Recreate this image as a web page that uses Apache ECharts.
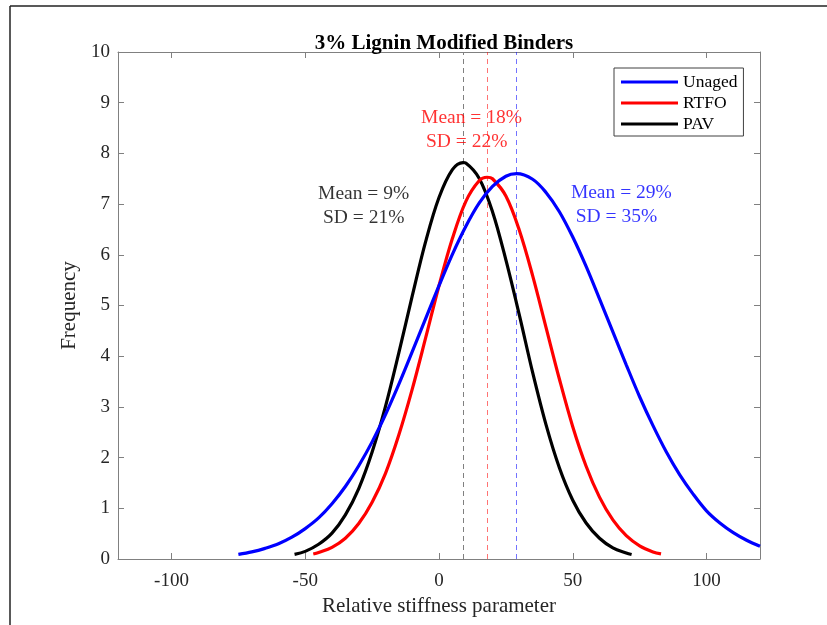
<!DOCTYPE html>
<html>
<head>
<meta charset="utf-8">
<script src="https://cdn.jsdelivr.net/npm/echarts@6/dist/echarts.min.js"></script>
<style>html,body{margin:0;padding:0;background:#fff;}#chart{width:827px;height:625px;}</style>
</head>
<body>
<div id="chart"></div>
<script>
// ---- data ----
const seriesNames = ['Unaged', 'RTFO', 'PAV'];
const unagedX = [-75,-70,-65,-60,-55,-50,-45,-40,-35,-30,-25,-20,-15,-10,-5,0,5,10,15,20,25,29,35,40,45,50,55,60,65,70,75,80,85,90,95,100,105,110,115,120];
const unagedY = [0.09,0.14,0.21,0.30,0.43,0.60,0.81,1.09,1.43,1.84,2.31,2.85,3.45,4.09,4.74,5.39,6.01,6.56,7.02,7.35,7.55,7.60,7.49,7.23,6.85,6.35,5.77,5.13,4.48,3.83,3.20,2.63,2.11,1.66,1.28,0.95,0.71,0.52,0.37,0.25];
const rtfoX = [-47,-45,-40,-35,-30,-25,-20,-15,-10,-5,0,5,10,15,18,20,25,30,35,40,45,50,55,60,65,70,75,80,83];
const rtfoY = [0.10,0.13,0.23,0.41,0.70,1.12,1.69,2.45,3.35,4.36,5.39,6.32,7.05,7.46,7.53,7.50,7.16,6.49,5.59,4.57,3.55,2.61,1.83,1.22,0.77,0.46,0.26,0.14,0.10];
const pavX = [-54,-50,-45,-40,-35,-30,-25,-20,-15,-10,-5,0,5,9,10,15,20,25,30,35,40,45,50,55,60,65,70,72];
const pavY = [0.09,0.15,0.29,0.51,0.87,1.39,2.11,3.01,4.07,5.19,6.26,7.13,7.68,7.82,7.81,7.51,6.85,5.90,4.82,3.68,2.65,1.80,1.16,0.71,0.41,0.22,0.12,0.09];
const meanValues = [29, 18, 9];
const meanText = ['Mean = 29%', 'Mean = 18%', 'Mean = 9%'];
const sdText = [' SD = 35%', ' SD = 22%', ' SD = 21%'];
const xTicks = [-100, -50, 0, 50, 100];
const yTicks = [0,1,2,3,4,5,6,7,8,9,10];

// ---- styles / layout ----
const colors = ['#0000ff', '#ff0000', '#000000'];
const annotPos = [[49.3, 6.99], [-6.7, 8.47], [-45.2, 6.96]];
const FONT = '"Liberation Serif", "Times New Roman", serif';
const AX = '#808080';
const TXT = '#262626';

const xs = [unagedX, rtfoX, pavX];
const ys = [unagedY, rtfoY, pavY];

const chart = echarts.init(document.getElementById('chart'), null, {renderer: 'canvas'});

const series = seriesNames.map((name, i) => ({
  name: name,
  type: 'line',
  xAxisIndex: 0, yAxisIndex: 0,
  data: xs[i].map((x, k) => [x, ys[i][k]]),
  smooth: 0.35,
  symbol: 'none',
  showSymbol: false,
  lineStyle: {color: colors[i], width: 3.2},
  itemStyle: {color: colors[i]},
  z: 5 - i,
  clip: true,
  markLine: {
    silent: true,
    symbol: ['none', 'none'],
    label: {show: false},
    lineStyle: {color: i === 2 ? '#808080' : colors[i], opacity: i === 2 ? 1 : 0.55, width: 1, type: [5, 4]},
    data: [{xAxis: meanValues[i]}],
    z: 1
  }
}));

seriesNames.forEach((name, i) => {
  series.push({
    name: 'annot' + i,
    type: 'scatter',
    xAxisIndex: 0, yAxisIndex: 0,
    data: [annotPos[i]],
    symbolSize: 0,
    silent: true,
    z: 10,
    label: {
      show: true,
      position: [0, 0],
      align: 'left',
      verticalAlign: 'middle',
      formatter: () => meanText[i] + '\n' + sdText[i],
      color: colors[i],
      fontFamily: FONT,
      fontSize: 19.5,
      lineHeight: 24
    }
  });
});

const option = {
  backgroundColor: '#fff',
  animation: false,
  title: {
    text: '3% Lignin Modified Binders',
    left: 439, top: 28, textAlign: 'center',
    textStyle: {fontFamily: FONT, fontSize: 21, fontWeight: 'bold', color: '#000'}
  },
  grid: {left: 118, right: 67, top: 52, bottom: 66, containLabel: false},
  legend: {
    data: seriesNames.map(n => ({name: n, icon: 'rect'})),
    orient: 'vertical',
    left: 614, top: 68,
    padding: [5, 6, 3, 7],
    itemWidth: 57, itemHeight: 3.2, itemGap: 3,
    backgroundColor: '#fff',
    borderColor: '#404040', borderWidth: 1,
    textStyle: {fontFamily: FONT, fontSize: 17.5, color: '#000'},
    selectedMode: false
  },
  xAxis: [{
    type: 'value', min: -120, max: 120, position: 'bottom',
    name: 'Relative stiffness parameter', nameLocation: 'middle', nameGap: 36,
    nameTextStyle: {fontFamily: FONT, fontSize: 21, color: TXT},
    axisLine: {show: true, onZero: false, lineStyle: {color: AX, width: 1}},
    axisTick: {show: true, inside: true, length: 6, lineStyle: {color: AX}, customValues: xTicks},
    axisLabel: {fontFamily: FONT, fontSize: 19, color: TXT, margin: 13, customValues: xTicks},
    splitLine: {show: false}
  }, {
    type: 'value', min: -120, max: 120, position: 'top',
    axisLine: {show: true, onZero: false, lineStyle: {color: AX, width: 1}},
    axisTick: {show: true, inside: true, length: 6, lineStyle: {color: AX}, customValues: xTicks},
    axisLabel: {show: false, customValues: xTicks},
    splitLine: {show: false}
  }],
  yAxis: [{
    type: 'value', min: 0, max: 10, interval: 1, position: 'left',
    name: 'Frequency', nameLocation: 'middle', nameGap: 31, nameRotate: 90,
    nameTextStyle: {fontFamily: FONT, fontSize: 21, color: TXT},
    axisLine: {show: true, onZero: false, lineStyle: {color: AX, width: 1}},
    axisTick: {show: true, inside: true, length: 6, lineStyle: {color: AX}},
    axisLabel: {fontFamily: FONT, fontSize: 19, color: TXT, margin: 8,
      formatter: v => (yTicks.indexOf(v) >= 0 ? String(v) : '')},
    splitLine: {show: false}
  }, {
    type: 'value', min: 0, max: 10, interval: 1, position: 'right',
    axisLine: {show: true, onZero: false, lineStyle: {color: AX, width: 1}},
    axisTick: {show: true, inside: true, length: 6, lineStyle: {color: AX}},
    axisLabel: {show: false},
    splitLine: {show: false}
  }],
  series: series,
  graphic: [
    {type: 'line', shape: {x1: 10, y1: 6, x2: 827, y2: 6}, style: {stroke: '#222', lineWidth: 1.5}, silent: true},
    {type: 'line', shape: {x1: 10, y1: 6, x2: 10, y2: 625}, style: {stroke: '#222', lineWidth: 1.5}, silent: true}
  ]
};

chart.setOption(option);
</script>
</body>
</html>
